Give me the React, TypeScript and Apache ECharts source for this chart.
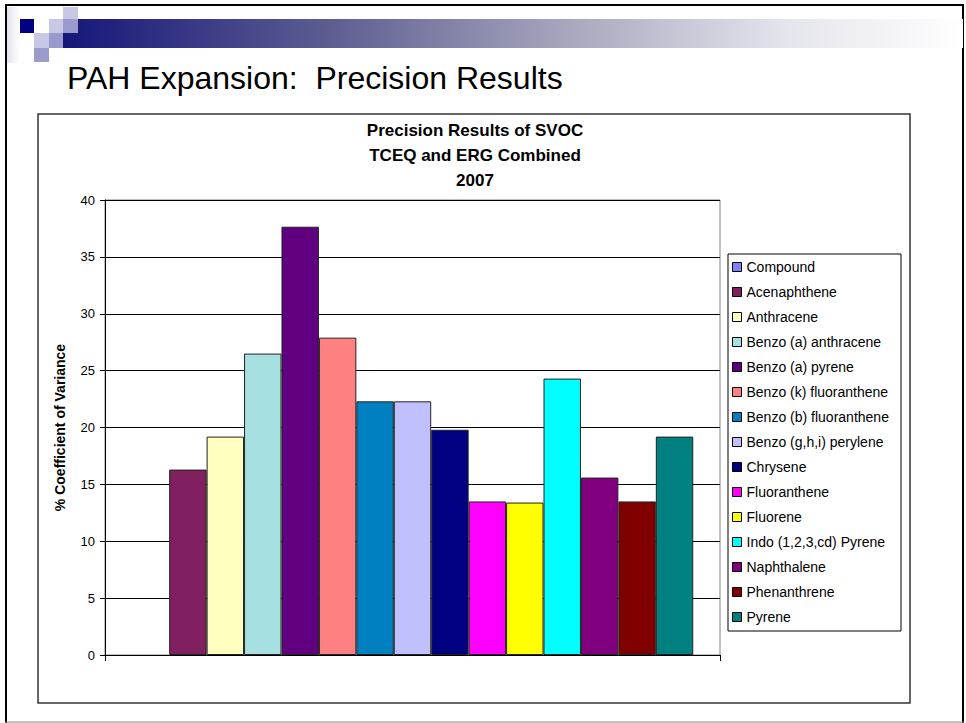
import React, { useEffect, useRef } from "react";
import * as echarts from "echarts";

const slideTitle = "PAH Expansion:  Precision Results";
const chartTitle = "Precision Results of SVOC\nTCEQ and ERG Combined\n2007";
const yAxisName = "% Coefficient of Variance";
const categories = [""];
const seriesNames = [
  "Compound",
  "Acenaphthene",
  "Anthracene",
  "Benzo (a) anthracene",
  "Benzo (a) pyrene",
  "Benzo (k) fluoranthene",
  "Benzo (b) fluoranthene",
  "Benzo (g,h,i) perylene",
  "Chrysene",
  "Fluoranthene",
  "Fluorene",
  "Indo (1,2,3,cd) Pyrene",
  "Naphthalene",
  "Phenanthrene",
  "Pyrene",
];
const seriesValues: (number | null)[] = [
  null, 16.3, 19.2, 26.5, 37.65, 27.9, 22.3, 22.3, 19.8, 13.5, 13.4, 24.3, 15.6, 13.5, 19.2,
];
const seriesColors = [
  "#8080FF", "#802060", "#FFFFC0", "#A6E0E0", "#600080", "#FF8080", "#0080C0",
  "#C0C0FF", "#000080", "#FF00FF", "#FFFF00", "#00FFFF", "#800080", "#800000", "#008080",
];
const yTicks = { min: 0, max: 40, interval: 5 };

const FONT = "'Liberation Sans', Arial, Helvetica, sans-serif";

export default function App() {
  const ref = useRef<HTMLDivElement>(null);
  useEffect(() => {
    if (!ref.current) return;
    const chart = echarts.init(ref.current, null, { renderer: "svg" });
    const series: any[] = seriesNames.map((name, i) => ({
      name,
      type: "bar",
      data: [seriesValues[i] === null ? "-" : seriesValues[i]],
      barGap: "0%",
      barCategoryGap: "8.7%",
      itemStyle: { color: seriesColors[i], borderColor: "#222", borderWidth: 1 },
      emphasis: { disabled: true },
    }));

    const squares: any[] = [
      { x: 63, y: 7, w: 15, h: 12, c: "#C8C8E6" },
      { x: 20, y: 19, w: 14, h: 14, c: "#000080" },
      { x: 49, y: 19, w: 14, h: 14, c: "#C8C8E6" },
      { x: 63, y: 19, w: 15, h: 14, c: "#9A9ACC" },
      { x: 34, y: 33, w: 15, h: 15, c: "#C8C8E6" },
      { x: 49, y: 33, w: 14, h: 15, c: "#9A9ACC" },
      { x: 34, y: 48, w: 15, h: 14, c: "#9A9ACC" },
    ].map((s) => ({
      type: "rect",
      shape: { x: s.x, y: s.y, width: s.w, height: s.h },
      style: { fill: s.c },
      silent: true,
    }));

    chart.setOption({
      animation: false,
      textStyle: { fontFamily: FONT },
      title: [
        {
          text: slideTitle,
          left: 62,
          top: 57,
          textStyle: { fontSize: 32, fontWeight: "normal", color: "#000", fontFamily: FONT },
        },
        {
          text: chartTitle,
          left: 470,
          top: 113,
          textAlign: "center",
          textStyle: { fontSize: 17, fontWeight: "bold", color: "#000", lineHeight: 25, fontFamily: FONT },
        },
      ],
      legend: {
        data: seriesNames,
        orient: "vertical",
        left: 732,
        top: 259,
        padding: 0,
        itemWidth: 9,
        itemHeight: 9,
        itemGap: 9,
        icon: "rect",
        selectedMode: false,
        itemStyle: { borderColor: "#000", borderWidth: 1 },
        textStyle: { fontSize: 14, color: "#000", lineHeight: 16, fontFamily: FONT },
      },
      grid: {
        left: 105,
        right: 246,
        top: 200,
        bottom: 68,
        show: true,
        borderColor: "#808080",
        borderWidth: 1,
        containLabel: false,
      },
      xAxis: {
        type: "category",
        data: categories,
        axisLine: { show: true, lineStyle: { color: "#000", width: 1 } },
        axisTick: { show: true, length: 6, lineStyle: { color: "#000" } },
        axisLabel: { show: false },
        splitLine: { show: false },
      },
      yAxis: {
        type: "value",
        min: yTicks.min,
        max: yTicks.max,
        interval: yTicks.interval,
        name: yAxisName,
        nameLocation: "middle",
        nameRotate: 90,
        nameGap: 38,
        nameTextStyle: { fontSize: 14, fontWeight: "bold", color: "#000", fontFamily: FONT },
        axisLine: { show: true, lineStyle: { color: "#000", width: 1 } },
        axisTick: { show: true, inside: false, length: 5, lineStyle: { color: "#000" } },
        axisLabel: { fontSize: 13, color: "#000", margin: 10, fontFamily: FONT },
        splitLine: { show: true, lineStyle: { color: "#000", width: 1 } },
      },
      graphic: [
        { type: "line", shape: { x1: 6, y1: 5, x2: 6, y2: 723 }, style: { stroke: "#000", lineWidth: 2 }, silent: true },
        { type: "line", shape: { x1: 5, y1: 5, x2: 964, y2: 5 }, style: { stroke: "#000", lineWidth: 2 }, silent: true },
        { type: "line", shape: { x1: 963, y1: 5, x2: 963, y2: 723 }, style: { stroke: "#000", lineWidth: 2 }, silent: true },
        { type: "line", shape: { x1: 5, y1: 722, x2: 964, y2: 722 }, style: { stroke: "#888", lineWidth: 1 }, silent: true },
        {
          type: "rect",
          shape: { x: 7, y: 7, width: 13, height: 56 },
          style: {
            fill: new echarts.graphic.LinearGradient(0, 0, 1, 0, [
              { offset: 0, color: "#E4E4F2" },
              { offset: 1, color: "#FFFFFF" },
            ]),
          },
          silent: true,
        },
        {
          type: "rect",
          shape: { x: 63, y: 19, width: 900, height: 29 },
          style: {
            fill: new echarts.graphic.LinearGradient(0, 0, 1, 0, [
              { offset: 0, color: "#16167A" },
              { offset: 0.3, color: "#5E5E92" },
              { offset: 0.55, color: "#A4A4BC" },
              { offset: 0.8, color: "#E4E4EC" },
              { offset: 1, color: "#FFFFFF" },
            ]),
          },
          silent: true,
        },
        ...squares,
        {
          type: "rect",
          shape: { x: 38, y: 114, width: 872, height: 589 },
          style: { fill: "none", stroke: "#333", lineWidth: 1.5 },
          silent: true,
          z: -1,
        },
        {
          type: "rect",
          shape: { x: 728, y: 254, width: 173, height: 377 },
          style: { fill: "none", stroke: "#000", lineWidth: 1 },
          silent: true,
        },
      ],
      series,
    });
    return () => chart.dispose();
  }, []);
  return (
    <div
      ref={ref}
      style={{ position: "absolute", left: 0, top: 0, width: 966, height: 723, background: "#fff" }}
    />
  );
}
